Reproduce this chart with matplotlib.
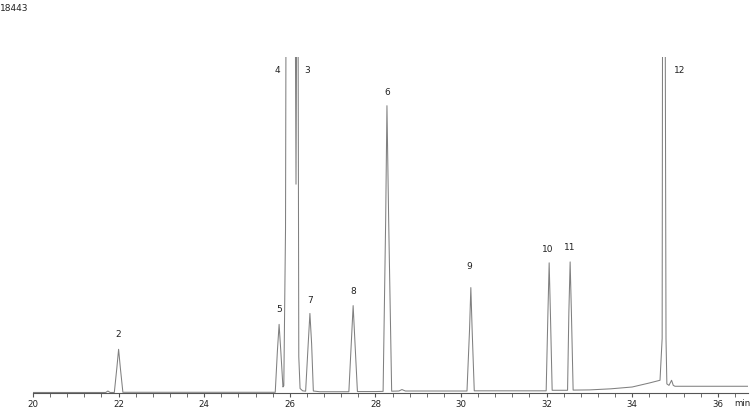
import matplotlib
matplotlib.use("Agg")
import matplotlib.pyplot as plt
from matplotlib.ticker import MultipleLocator

# chromatogram trace (time in min, signal in counts)
trace_time = [20.0, 21.0, 21.70, 21.75, 21.80, 21.90, 21.96, 22.00, 22.04, 22.10,
              23.0, 25.0, 25.66, 25.71, 25.75, 25.79, 25.84, 25.86, 25.90, 25.93,
              26.05, 26.13, 26.145, 26.16, 26.17, 26.19, 26.21, 26.24, 26.30, 26.37,
              26.43, 26.47, 26.51, 26.55, 26.70, 27.38, 27.44, 27.48, 27.52, 27.58,
              28.0, 28.18, 28.24, 28.27, 28.31, 28.38, 28.55, 28.62, 28.70, 29.5,
              30.14, 30.20, 30.23, 30.26, 30.31, 31.0, 31.99, 32.03, 32.06, 32.09,
              32.13, 32.49, 32.52, 32.55, 32.58, 32.62, 33.0, 33.5, 34.0, 34.4,
              34.65, 34.70, 34.73, 34.79, 34.81, 34.86, 34.92, 34.96, 35.0, 36.7]
trace_signal = [30, 30, 30, 110, 30, 30, 1400, 2400, 1400, 40,
                40, 40, 40, 2300, 3770, 2300, 330, 400, 9000, 40000,
                60000, 20000, 11470, 20000, 60000, 25000, 2000, 250, 120, 100,
                2700, 4370, 2700, 110, 70, 70, 2900, 4800, 2900, 80,
                80, 90, 9500, 15780, 9500, 100, 110, 190, 110, 110,
                110, 3500, 5790, 3500, 120, 120, 120, 4300, 7150, 4300,
                150, 150, 4400, 7200, 4400, 160, 170, 230, 330, 550,
                700, 3000, 60000, 3000, 500, 420, 700, 420, 370, 370]

# peak labels and apex positions
peak_names = ["2", "5", "4", "3", "7", "8", "6", "9", "10", "11", "12"]
peak_times = [22.00, 25.75, 25.93, 26.17, 26.47, 27.48, 28.27, 30.23, 32.06, 32.55, 34.73]
peak_heights = [2400, 3770, 40000, 60000, 4370, 4800, 15780, 5790, 7150, 7200, 60000]

y_max = 18443
x_min, x_max = 20.0, 36.7

# label offsets in points (dx, dy)
label_offsets = [(0, 8), (0, 8), (-7, -9), (7, -9), (0, 7), (0, 8), (0, 7),
                 (-1, 13), (-1, 7), (0, 8), (12, -9)]

fig = plt.figure(figsize=(7.5, 4.1), dpi=100)
ax = fig.add_axes([0.044, 0.039, 0.953, 0.819])

ax.plot(trace_time, trace_signal, color="#808080", lw=0.75)

for name, t, h, off in zip(peak_names, peak_times, peak_heights, label_offsets):
    ax.annotate(name, (t, min(h, y_max)), xytext=off, textcoords="offset points",
                ha="center", va="bottom" if h < y_max else "center",
                fontsize=6.5, color="#222222")

ax.set_xlim(x_min, x_max)
ax.set_ylim(0, y_max)
ax.xaxis.set_major_locator(MultipleLocator(2))
ax.xaxis.set_minor_locator(MultipleLocator(0.4))
ax.tick_params(axis="x", which="both", length=3, pad=1, labelsize=6.2,
               color="#555555", labelcolor="#222222")
ax.set_yticks([])
for side in ["left", "right", "top"]:
    ax.spines[side].set_visible(False)
ax.spines["bottom"].set_color("#555555")
ax.spines["bottom"].set_linewidth(0.8)

ax.text(0.993, -0.016, "min", transform=ax.transAxes, ha="center", va="top",
        fontsize=6.2, color="#222222")
fig.text(0.0, 0.99, str(y_max), ha="left", va="top", fontsize=6.5, color="#222222")

fig.savefig("out.png", dpi=100)
